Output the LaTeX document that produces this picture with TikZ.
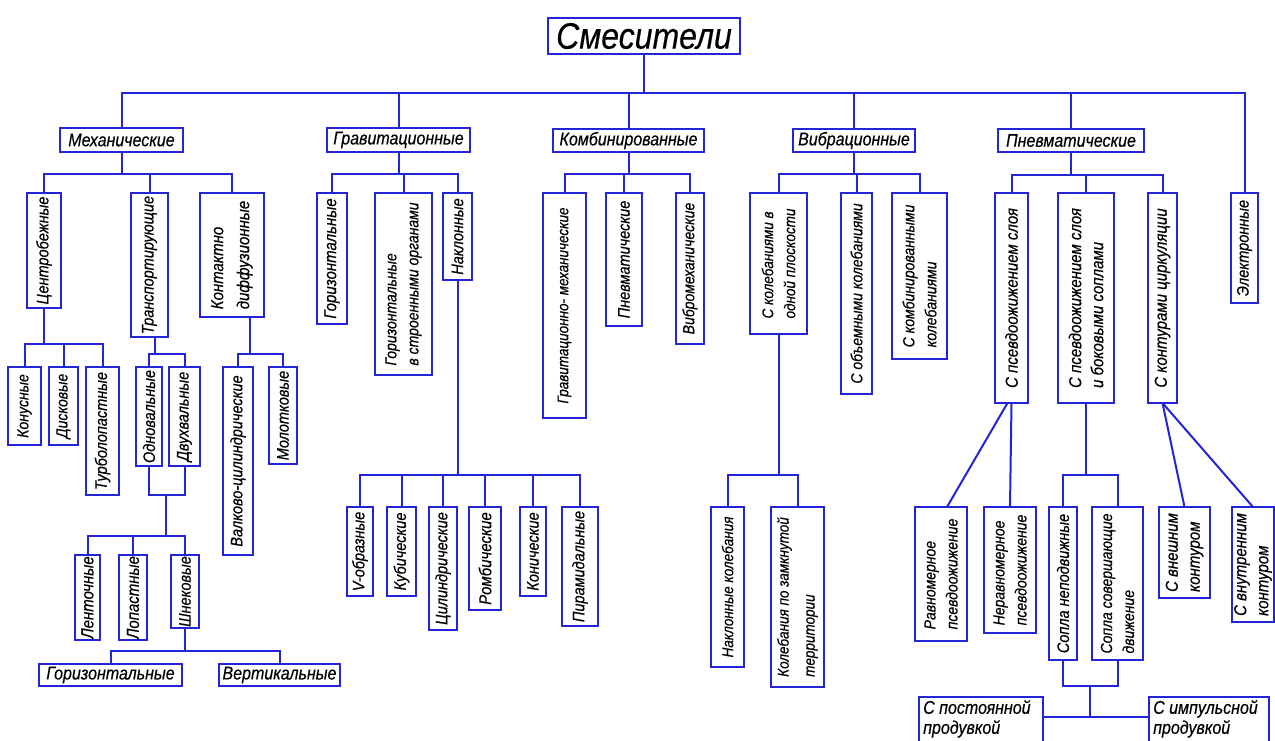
\documentclass[tikz,border=0pt]{standalone}
\usepackage{fontspec}
\setmainfont{Liberation Sans}[FakeStretch=0.87,FakeBold=0.4]
\definecolor{lineblue}{RGB}{35,35,215}
\tikzset{
  ln/.style={draw=lineblue, line width=2pt},
  bx/.style={draw=lineblue, line width=2pt, inner sep=0pt, outer sep=0pt, fill=white},
  vtx/.style={rotate=90, inner sep=0pt, align=left, text=black},
  htx/.style={inner sep=0pt, align=left, text=black},
}
\newcommand\VB[7][14.5]{%
  \node[bx, minimum width={#5-#3}, minimum height={#6-#4}] (#2) at ({(#3+#5)/2},{(#4+#6)/2}) {};
  \node[vtx, font=\itshape\fontsize{\fpeval{#1*1.15}}{22}\selectfont] (#2-t) at (#2.center) {#7};}
\newcommand\HB[7][16]{%
  \node[bx, minimum width={#5-#3}, minimum height={#6-#4}] (#2) at ({(#3+#5)/2},{(#4+#6)/2}) {};
  \node[htx, font=\itshape\fontsize{\fpeval{#1*1.15}}{20}\selectfont] (#2-t) at (#2.center) {#7};}
\begin{document}
\begin{tikzpicture}[x=1pt,y=-1pt]
\useasboundingbox (0,0) rectangle (1275,741);
% level 0/1
\HB[32]{root}{548}{18}{740}{54}{Смесители}
\HB{mech}{60}{128}{183}{152}{Механические}
\HB{grav}{327}{128}{470}{152}{Гравитационные}
\HB{komb}{553}{129}{704}{152}{Комбинированные}
\HB{vibr}{793}{129}{915}{152}{Вибрационные}
\HB{pnev}{998}{129}{1144}{152}{Пневматические}
\VB{elek}{1231}{193}{1258}{303}{Электронные}
% mechanical
\VB{cb}{27}{193}{61}{308}{Центробежные}
\VB{tr}{131}{193}{168}{337}{Транспортирующие}
\VB[15]{kd}{200}{193}{264}{317}{Контактно\\[4pt]диффузионные}
\VB[14]{kon}{8}{367}{41}{445}{Конусные}
\VB[14]{disk}{49}{367}{78}{445}{Дисковые}
\VB{turb}{86}{367}{119}{495}{Турболопастные}
\VB{odn}{136}{367}{162}{466}{Одновальные}
\VB{dvu}{169}{367}{200}{466}{Двухвальные}
\VB[15]{lent}{75}{555}{100}{640}{Ленточные}
\VB[15]{lop}{119}{555}{147}{640}{Лопастные}
\VB[14.5]{shn}{171}{555}{199}{628}{Шнековые}
\HB{hor}{39}{664}{182}{686}{Горизонтальные}
\HB{vert}{219}{664}{340}{686}{Вертикальные}
\VB{valk}{223}{367}{253}{555}{Валково-цилиндрические}
\VB{mol}{269}{367}{297}{464}{Молотковые}
% gravitational
\VB[15]{g1}{317}{193}{347}{324}{Горизонтальные}
\VB[14]{g2}{375}{193}{432}{375}{Горизонтальные\\в строенными органами}
\VB{g3}{443}{193}{472}{280}{Наклонные}
\VB{n1}{347}{507}{373}{596}{V-образные}
\VB{n2}{387}{507}{416}{596}{Кубические}
\VB{n3}{429}{507}{457}{630}{Цилиндрические}
\VB[15]{n4}{469}{507}{501}{610}{Ромбические}
\VB{n5}{520}{507}{546}{596}{Конические}
\VB{n6}{562}{507}{598}{626}{Пирамидальные}
% combined
\VB[13.5]{k1}{543}{193}{586}{418}{Гравитационно- механические}
\VB{k2}{606}{193}{642}{326}{Пневматические}
\VB[14]{k3}{676}{193}{704}{344}{Вибромеханические}
% vibration
\VB[13.5]{v1}{750}{193}{807}{334}{С колебаниями в\\одной плоскости}
\VB[14]{v2}{841}{193}{872}{394}{С объемными колебаниями}
\VB[14]{v3}{892}{193}{947}{359}{С комбинированными\\колебаниями}
\VB[13.5]{nk}{711}{507}{744}{667}{Наклонные колебания}
\VB[13.5]{kz}{771}{507}{824}{687}{Колебания по замкнутой\\[4pt]территории}
% pneumatic
\VB[15]{p1}{995}{193}{1028}{403}{С псевдоожижением слоя}
\VB[15]{p2}{1058}{193}{1114}{403}{С псевдоожижением слоя\\и боковыми соплами}
\VB[15]{p3}{1148}{193}{1177}{403}{С контурами циркуляции}
\VB[14]{rav}{915}{507}{967}{641}{Равномерное\\псевдоожижение}
\VB[14]{nrav}{984}{507}{1036}{633}{Неравномерное\\псевдоожижение}
\VB{s1}{1049}{507}{1077}{660}{Сопла неподвижные}
\VB[14]{s2}{1092}{507}{1143}{660}{Сопла совершающие\\движение}
\VB[15]{vn}{1159}{507}{1210}{598}{С внешним\\контуром}
\VB[15]{vnu}{1232}{507}{1274}{622}{С внутренним\\контуром}
\node[bx, minimum width=124, minimum height=48] (post) at (981,721) {};
\node[htx, anchor=north west, font=\itshape\fontsize{18.4}{20}\selectfont] (post-t) at ([xshift=4pt,yshift=-3pt]post.north west) {С постоянной\\продувкой};
\node[bx, minimum width=120, minimum height=48] (imp) at (1209,721) {};
\node[htx, anchor=north west, font=\itshape\fontsize{18.4}{20}\selectfont] (imp-t) at ([xshift=4pt,yshift=-3pt]imp.north west) {С импульсной\\продувкой};
% connectors
\foreach \c in {mech,grav,komb,vibr,pnev,elek} \draw[ln] (root.south) -- ++(0,39) -| (\c.north);
\foreach \c in {cb,tr,kd} \draw[ln] (mech.south) -- ++(0,22) -| (\c.north);
\foreach \c in {g1,g2,g3} \draw[ln] (grav.south) -- ++(0,22) -| (\c.north);
\foreach \c in {k1,k2,k3} \draw[ln] (komb.south) -- ++(0,22) -| (\c.north);
\foreach \c in {v1,v2,v3} \draw[ln] (vibr.south) -- ++(0,22) -| (\c.north);
\foreach \c in {p1,p2,p3} \draw[ln] (pnev.south) -- ++(0,23) -| (\c.north);
\foreach \c in {kon,disk,turb} \draw[ln] (cb.south) -- ++(0,36) -| (\c.north);
\foreach \c in {odn,dvu} \draw[ln] ([xshift=5pt]tr.south) -- ++(0,17) -| (\c.north);
\coordinate (j1) at (166,495);
\draw[ln] (odn.south) |- (j1) -| (dvu.south);
\foreach \c in {lent,lop,shn} \draw[ln] (j1) -- ++(0,41) -| (\c.north);
\foreach \c in {hor,vert} \draw[ln] (shn.south) -- ++(0,23) -| (\c.north);
\foreach \c in {valk,mol} \draw[ln] ([xshift=18pt]kd.south) -- ++(0,37) -| (\c.north);
\foreach \c in {n1,n2,n3,n4,n5,n6} \draw[ln] (g3.south) -- ++(0,195) -| (\c.north);
\foreach \c in {nk,kz} \draw[ln] (v1.south) -- ++(0,141) -| (\c.north);
\draw[ln] ([xshift=-4pt]p1.south) -- ([xshift=6pt]rav.north);
\draw[ln] (p1.south) -- (nrav.north);
\foreach \c in {s1,s2} \draw[ln] (p2.south) -- ++(0,72) -| (\c.north);
\coordinate (j2) at (1090,686);
\coordinate (j3) at (1090,717);
\draw[ln] (s1.south) |- (j2) -| (s2.south);
\draw[ln] (j2) -- (j3);
\draw[ln] (post.east |- j3) -- (imp.west |- j3);
\draw[ln] (p3.south) -- (vn.north);
\draw[ln] (p3.south) -- (vnu.north);
\end{tikzpicture}
\end{document}
